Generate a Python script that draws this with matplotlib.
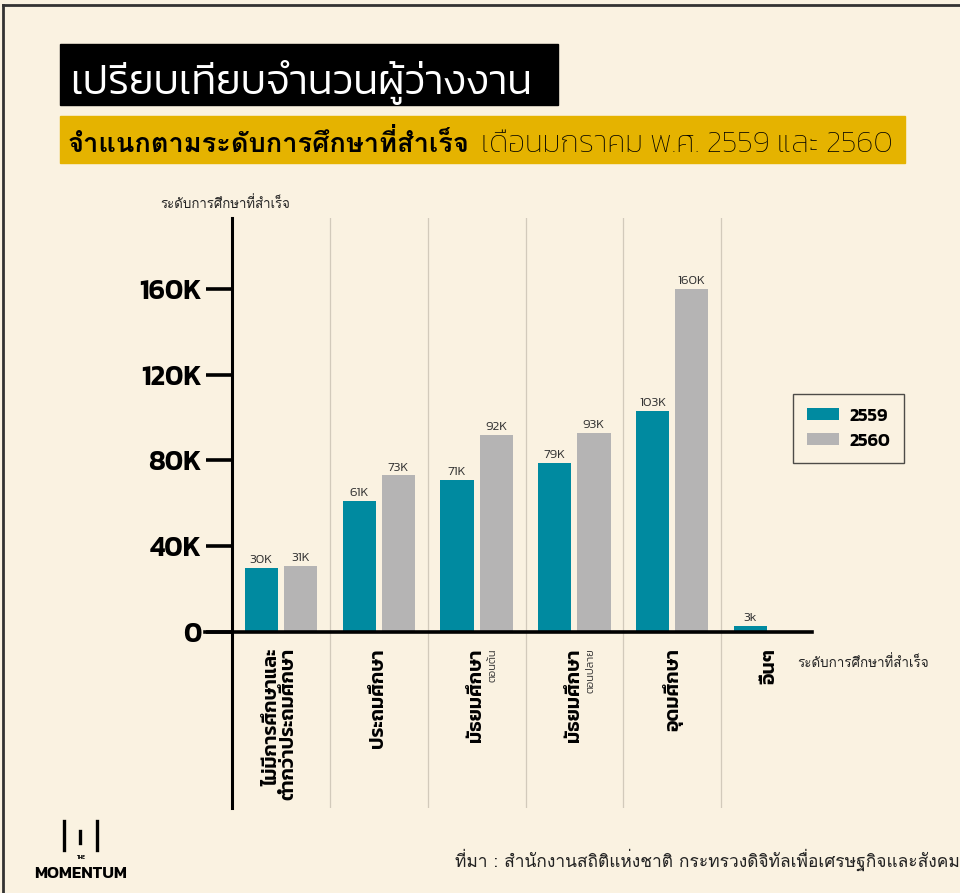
import matplotlib
matplotlib.use("Agg")
import numpy as np
import matplotlib.pyplot as plt
from matplotlib.patches import Rectangle
from matplotlib.lines import Line2D

# ---- data ----
categories = ["ไม่มีการศึกษาและ\nต่ำกว่าประถมศึกษา", "ประถมศึกษา", "มัธยมศึกษา",
              "มัธยมศึกษา", "อุดมศึกษา", "อื่นๆ"]
subLabels = ["", "", "ตอนต้น", "ตอนปลาย", "", ""]
years = ["2559", "2560"]
values2559 = [30000, 61000, 71000, 79000, 103000, 3000]
values2560 = [31000, 73000, 92000, 93000, 160000, np.nan]
labels2559 = ["30K", "61K", "71K", "79K", "103K", "3k"]
labels2560 = ["31K", "73K", "92K", "93K", "160K", ""]
yTicks = [0, 40000, 80000, 120000, 160000]
yTickLabels = ["0", "40K", "80K", "120K", "160K"]

TITLE = "เปรียบเทียบจำนวนผู้ว่างงาน"
SUB_BOLD = "จำแนกตามระดับการศึกษาที่สำเร็จ"
SUB_LIGHT = "เดือนมกราคม พ.ศ. 2559 และ 2560"
AXIS_NAME = "ระดับการศึกษาที่สำเร็จ"
SOURCE = "ที่มา : สำนักงานสถิติแห่งชาติ กระทรวงดิจิทัลเพื่อเศรษฐกิจและสังคม"

BG = "#FAF2E1"
TEAL = "#008AA0"
GREY = "#B5B4B4"
YELLOW = "#E5B300"
THAI = ["Kanit", "DejaVu Sans"]
# Loma places stacked tone marks correctly without shaping (ที่, เพื่อ)
THAI_MARKS = ["Loma", "Kanit", "DejaVu Sans"]

W, H = 960, 893


def FX(px):
    return px / W


def FY(py):
    return 1 - py / H


def FitWidth(fig, txt, targetPx):
    renderer = fig.canvas.get_renderer()
    bb = txt.get_window_extent(renderer)
    if bb.width > 0:
        txt.set_fontsize(txt.get_fontsize() * targetPx / bb.width)
    return txt


fig = plt.figure(figsize=(W / 100, H / 100), dpi=100, facecolor=BG)

# frame lines of the card
fig.add_artist(Line2D([FX(3), FX(3)], [0, FY(5)], color="#333333", lw=2))
fig.add_artist(Line2D([FX(3), 1], [FY(5), FY(5)], color="#333333", lw=2))

# title block
fig.add_artist(Rectangle((FX(60), FY(105)), FX(558) - FX(60), FY(44) - FY(105),
                         transform=fig.transFigure, color="black"))
t = fig.text(FX(70), FY(94), TITLE, color="white", family=THAI, weight=300,
             fontsize=28, va="baseline", ha="left")
FitWidth(fig, t, 462)

fig.add_artist(Rectangle((FX(60), FY(163)), FX(905) - FX(60), FY(116) - FY(163),
                         transform=fig.transFigure, color=YELLOW))
t = fig.text(FX(68), FY(152), SUB_BOLD, color="black", family=THAI_MARKS, weight="bold",
             fontsize=18, va="baseline", ha="left")
FitWidth(fig, t, 402)
t = fig.text(FX(481), FY(152), SUB_LIGHT, color="black", family=THAI, weight=200,
             fontsize=18, va="baseline", ha="left")
FitWidth(fig, t, 410)

# ---- chart ----
ax = fig.add_axes([FX(232), FY(808), FX(819) - FX(232), FY(218) - FY(808)])
ax.set_facecolor("none")
x = np.arange(len(categories))
barW = 0.34
off = 0.2
bars1 = ax.bar(x - off, values2559, barW, color=TEAL, label=years[0], zorder=2)
bars2 = ax.bar(x + off, values2560, barW, color=GREY, label=years[1], zorder=2)

for bars, labs in ((bars1, labels2559), (bars2, labels2560)):
    for b, lab in zip(bars, labs):
        h = b.get_height()
        if lab and np.isfinite(h):
            ax.annotate(lab, (b.get_x() + b.get_width() / 2, h), xytext=(0, 2),
                        textcoords="offset points", ha="center", va="bottom",
                        fontsize=9.5, family=THAI, weight=300, color="#333333")

ax.set_xlim(-0.5, len(categories) - 0.5)
ax.set_ylim(-82000, 193000)
for sep in x[:-1] + 0.5:
    ax.axvline(sep, color="#D2CABB", lw=0.9, zorder=0)
ax.axhline(0, xmin=-0.046, xmax=0.988, color="black", lw=2.6, clip_on=False, zorder=3)

for s in ("top", "right", "bottom"):
    ax.spines[s].set_visible(False)
ax.spines["left"].set_linewidth(2.2)
ax.spines["left"].set_color("black")
ax.set_xticks([])
ax.set_yticks(yTicks)
ax.set_yticklabels(yTickLabels, family=THAI, weight=600, fontsize=20)
ax.tick_params(axis="y", length=19, width=2.6, direction="out", pad=3, colors="black")

# category names, rotated
for i, (cat, sub) in enumerate(zip(categories, subLabels)):
    ax.text(i, -7500, cat, rotation=90, ha="center", va="top",
            multialignment="right", family=THAI, weight=600, fontsize=14,
            color="black", linespacing=0.95)
    if sub:
        ax.text(i + 0.17, -7500, sub, rotation=90, ha="center", va="top",
                family=THAI, weight=300, fontsize=8, color="#333333")

leg = ax.legend(loc="upper left", bbox_to_anchor=(FX(793), FY(394)),
                bbox_transform=fig.transFigure, borderaxespad=0, frameon=True,
                fancybox=False, edgecolor="#222222", facecolor=BG,
                prop={"family": THAI, "weight": 600, "size": 13},
                handlelength=1.8, handleheight=0.65, handletextpad=0.6,
                labelspacing=0.45, borderpad=0.75)
leg.get_frame().set_linewidth(1.0)

t = fig.text(FX(160), FY(208), AXIS_NAME, family=THAI_MARKS, fontsize=10,
             color="#222222", va="baseline", ha="left")
FitWidth(fig, t, 130)
t = fig.text(FX(797), FY(667), AXIS_NAME, family=THAI_MARKS, fontsize=10,
             color="#222222", va="baseline", ha="left")
FitWidth(fig, t, 131)

# source
t = fig.text(FX(455), FY(867), SOURCE, family=THAI_MARKS, fontsize=13,
             color="#222222", va="baseline", ha="left")
FitWidth(fig, t, 505)

# logo
for lx, y0, y1 in ((64, 821, 850), (80, 831, 843), (97, 821, 850)):
    fig.add_artist(Line2D([FX(lx), FX(lx)], [FY(y1), FY(y0)], color="black", lw=2.4))
fig.text(FX(81), FY(859), "THE", fontsize=3.5, family=THAI,
         weight=600, ha="center", va="baseline")
t = fig.text(FX(81), FY(878), "MOMENTUM", fontsize=12, family=THAI,
             weight=600, ha="center", va="baseline")
FitWidth(fig, t, 93)

fig.savefig("out.png", dpi=100, facecolor=BG)
